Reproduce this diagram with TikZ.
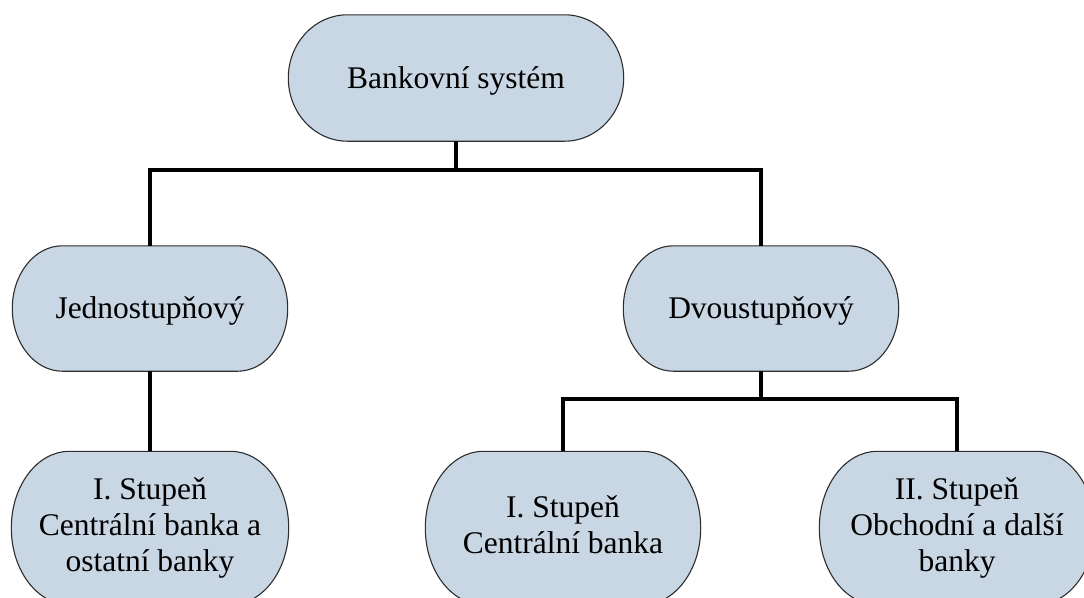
\documentclass[tikz,border=0pt]{standalone}
\usepackage{fontspec}
\setmainfont{Liberation Serif}
\usetikzlibrary{calc,backgrounds}

\definecolor{boxfill}{RGB}{201,214,228}
\definecolor{boxline}{RGB}{45,45,45}

% Terminator outline around a (rectangular, invisible) node:
% straight top and bottom, half-elliptical ends of horizontal radius #2.
\newcommand{\termoutline}[2]{%
  \path let \p1=(#1.north), \p2=(#1.south), \n1={(\y1-\y2)/2} in
    [fill=boxfill, draw=boxline, line width=1.1pt]
    ($(#1.north west)+(#2pt,0)$) -- ($(#1.north east)+(-#2pt,0)$)
    arc[start angle=90, end angle=-90, x radius=#2pt, y radius=\n1]
    -- ($(#1.south west)+(#2pt,0)$)
    arc[start angle=270, end angle=90, x radius=#2pt, y radius=\n1]
    -- cycle;}

\begin{document}
\begin{tikzpicture}[x=1pt, y=1pt,
    font=\fontsize{31.5}{36}\selectfont,
    term/.style={inner sep=0pt, align=center, text=black},
    oneline/.style={term, text height=26pt, text depth=6pt},
    conn/.style={draw=black, line width=3.6pt, line join=miter}]
  \useasboundingbox (0,0) rectangle (1084,-597);
  \clip (0,0) rectangle (1084,-597);

  % nodes
  \node[oneline, minimum width=335pt, minimum height=126pt] (root) at (456,-78) {Bankovní systém};
  \node[oneline, minimum width=275pt, minimum height=125pt] (one) at (150,-308.5) {Jednostupňový};
  \node[oneline, minimum width=275pt, minimum height=125pt] (two) at (761,-308.5) {Dvoustupňový};
  \node[term, minimum width=277pt, minimum height=153pt] (oneA) at (150,-528) {I. Stupeň\\Centrální banka a\\ostatní banky};
  \node[term, text depth=7pt, minimum width=275pt, minimum height=153pt] (twoA) at (563,-528) {I. Stupeň\\Centrální banka};
  \node[term, minimum width=275pt, minimum height=153pt] (twoB) at (957,-528) {II. Stupeň\\Obchodní a další\\banky};

  % outlines behind the texts
  \begin{scope}[on background layer]
    \termoutline{root}{59}
    \termoutline{one}{50}
    \termoutline{two}{50}
    \termoutline{oneA}{58}
    \termoutline{twoA}{58}
    \termoutline{twoB}{58}
  \end{scope}

  % connectors
  \coordinate (busTop) at (456,-170);
  \coordinate (busTwo) at (761,-399);
  \draw[conn] (root.south) -- (root.south |- busTop);
  \draw[conn] (one.north) |- (two.north |- busTop) -- (two.north);
  \draw[conn] (one.south) -- (oneA.north);
  \draw[conn] (two.south) -- (two.south |- busTwo);
  \draw[conn] (twoA.north) |- (twoB.north |- busTwo) -- (twoB.north);
\end{tikzpicture}
\end{document}
